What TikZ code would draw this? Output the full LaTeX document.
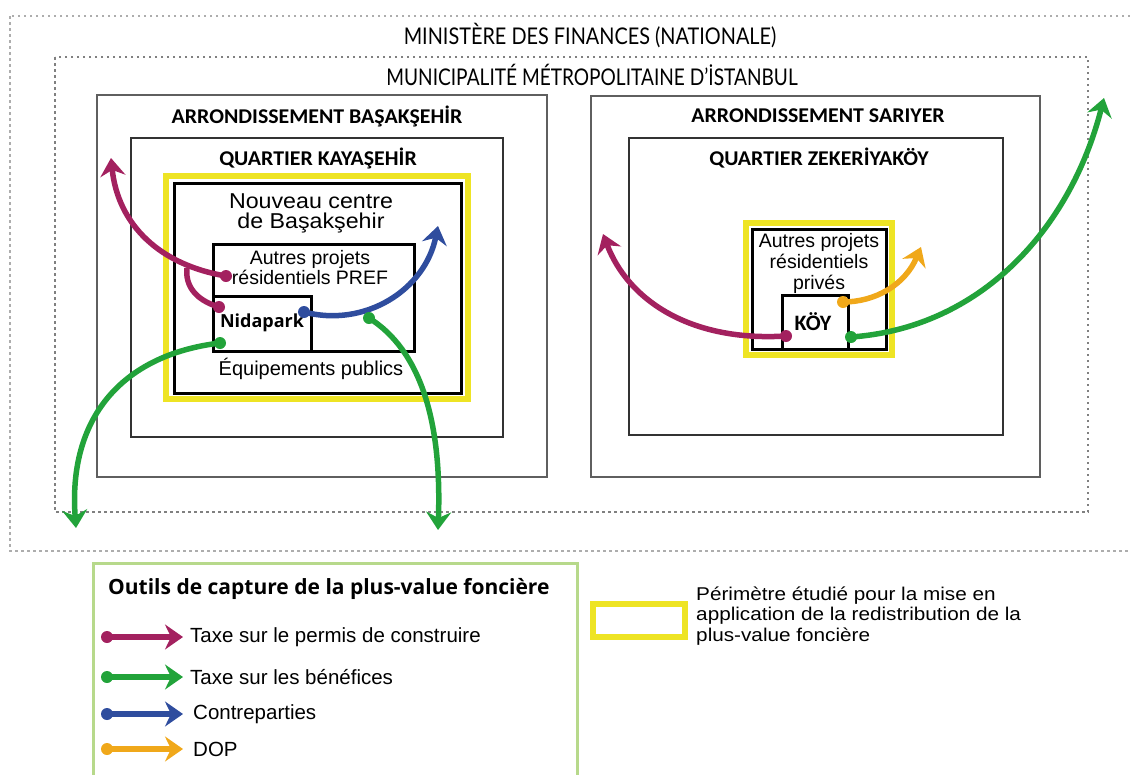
\documentclass[tikz,border=0pt]{standalone}
\usepackage{fontspec}
\setmainfont{Liberation Sans}
\newfontfamily\gill{Lato}
\newfontfamily\gillb{Open Sans}
\newfontfamily\frank{Carlito}
\usetikzlibrary{arrows.meta}
\definecolor{mag}{RGB}{163,33,95}
\definecolor{grn}{RGB}{34,163,58}
\definecolor{blu}{RGB}{47,77,158}
\definecolor{org}{RGB}{240,168,26}
\definecolor{yel}{RGB}{238,228,36}
\definecolor{lgr}{RGB}{183,217,139}
\definecolor{dgray}{RGB}{95,95,95}
\tikzset{
  dotbox/.style={line width=2.5pt, dash pattern=on 2.5pt off 3.5pt},
  arrbox/.style={draw=dgray, line width=2.8pt},
  qbox/.style={draw=black!80, line width=2.8pt},
  inbox/.style={draw=black, line width=3pt},
  yelbox/.style={draw=yel, line width=6pt},
  flow/.style={line width=5.5pt, -{Stealth[length=18pt,width=25pt,inset=6pt]}},
  hd/.style={font=\frank\bfseries\fontsize{21}{24}\selectfont, xscale=1.04, transform shape, inner sep=0pt},
  title/.style={font=\gill\fontsize{23}{26}\selectfont, xscale=0.83, transform shape, inner sep=0pt},
  lbl/.style={align=center, inner sep=0pt},
  leg/.style={anchor=west, inner sep=0pt, font=\fontsize{20.5}{22}\selectfont}
}
\begin{document}
\begin{tikzpicture}[x=1pt,y=-1pt]
\useasboundingbox (0,0) rectangle (1130,774);
% outer dotted boxes
\draw[dotbox, draw=black!32] (10,16) rectangle (1145,551);
\draw[dotbox, draw=black!50] (55,57) rectangle (1088,512);
\node[title, xscale=1.04] (min) at (590,36) {MINISTÈRE DES FINANCES (NATIONALE)};
\node[title] (mun) at (592,75) {MUNICIPALITÉ MÉTROPOLITAINE D’İSTANBUL};
% Basaksehir
\draw[arrbox] (97,95) rectangle (547,477);
\node[hd] (arb) at (317,116) {ARRONDISSEMENT BAŞAKŞEHİR};
\draw[qbox] (131,138) rectangle (503,437);
\node[hd] (qk) at (318,158) {QUARTIER KAYAŞEHİR};
\draw[yelbox] (166,176) rectangle (468,399);
\draw[inbox] (174,183) rectangle (461,393);
\node[lbl, font=\fontsize{21.5}{20}\selectfont, xscale=1.08, transform shape] (nc) at (311,213) {Nouveau centre\\de Başakşehir};
\draw[inbox] (213,244) rectangle (414,351);
\node[lbl, font=\fontsize{19.5}{20}\selectfont] (pref) at (310,268) {Autres projets\\résidentiels PREF};
\draw[inbox] (213,296) rectangle (311,351);
\node[font=\gillb\bfseries\fontsize{18}{20}\selectfont, inner sep=0pt] (nida) at (262,323) {Nidapark};
\node[lbl, font=\fontsize{20}{22}\selectfont] (eq) at (311,369) {Équipements publics};
% Sariyer
\draw[arrbox] (591,96) rectangle (1040,477);
\node[hd] (ars) at (818,116) {ARRONDISSEMENT SARIYER};
\draw[qbox] (629,138) rectangle (1003,435);
\node[hd] (qz) at (819,158) {QUARTIER ZEKERİYAKÖY};
\draw[yelbox] (746,223) rectangle (892,355);
\draw[inbox] (752,229) rectangle (886,349);
\node[lbl, font=\fontsize{19.5}{21}\selectfont] (priv) at (819,263) {Autres projets\\résidentiels\\privés};
\draw[inbox] (782,295) rectangle (848,349);
\node[font=\frank\bfseries\fontsize{22}{22}\selectfont, inner sep=0pt] (koy) at (813,322) {KÖY};
% dots and tips
\coordinate (m1s) at (226,276);
\coordinate (m1t) at (111,158);
\coordinate (m2s) at (219,307);
\coordinate (m2j) at (187,268);
\coordinate (b1s) at (304,312);
\coordinate (b1t) at (438,226);
\coordinate (g1s) at (220,343);
\coordinate (g1t) at (76,528);
\coordinate (g2s) at (369,318);
\coordinate (g2t) at (438,530);
\coordinate (m3s) at (786,336);
\coordinate (m3t) at (603,234);
\coordinate (o1s) at (843,302);
\coordinate (o1t) at (921,247);
\coordinate (g3s) at (851,337);
\coordinate (g3t) at (1104,98);
% arrows
\draw[flow, mag] (m1s) .. controls (160,265) and (118,225) .. (m1t);
\draw[line width=5.5pt, mag] (m2s) .. controls (195,300) and (185,285) .. (m2j);
\draw[flow, blu] (b1s) .. controls (365,328) and (425,290) .. (b1t);
\draw[flow, grn] (g1s) .. controls (120,355) and (68,420) .. (g1t);
\draw[flow, grn] (g2s) .. controls (420,350) and (442,420) .. (g2t);
\draw[flow, mag] (m3s) .. controls (690,342) and (628,300) .. (m3t);
\draw[flow, org] (o1s) .. controls (875,302) and (905,285) .. (o1t);
\draw[flow, grn] (g3s) .. controls (980,328) and (1070,230) .. (g3t);
\foreach \p/\c in {m1s/mag,m2s/mag,b1s/blu,g1s/grn,g2s/grn,m3s/mag,o1s/org,g3s/grn}
  \fill[\c] (\p) circle (6pt);
% legend
\draw[draw=lgr, line width=3pt] (93,790) -- (93,563) -- (577,563) -- (577,790);
\node[anchor=west, inner sep=0pt, font=\gillb\bfseries\fontsize{21}{22}\selectfont] (lt) at (108,589) {Outils de capture de la plus-value foncière};
\foreach \y/\c/\n/\t/\xx in {637/mag/l1/Taxe sur le permis de construire/190, 677/grn/l2/Taxe sur les bénéfices/190, 714/blu/l3/Contreparties/193, 749/org/l4/DOP/193}{
  \coordinate (\n s) at (107,\y);
  \coordinate (\n e) at (183,\y);
  \draw[flow, \c] (\n s) -- (\n e);
  \fill[\c] (\n s) circle (6pt);
  \node[leg] (\n t) at (\xx,\y) {\t};
}
\draw[yelbox] (593,604) rectangle (685,637);
\node[anchor=west, align=left, inner sep=0pt, font=\fontsize{18.5}{20.5}\selectfont, xscale=1.12, transform shape] (yl) at (696,616) {Périmètre étudié pour la mise en\\application de la redistribution de la\\plus-value foncière};
\end{tikzpicture}
\end{document}
